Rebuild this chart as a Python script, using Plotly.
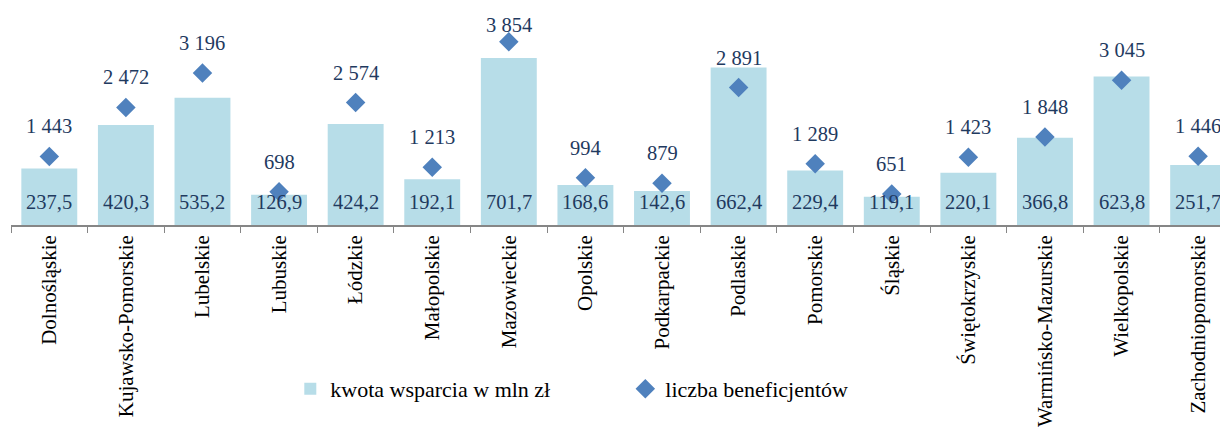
import plotly.graph_objects as go

regions = ["Dolnośląskie", "Kujawsko-Pomorskie", "Lubelskie", "Lubuskie", "Łódzkie",
           "Małopolskie", "Mazowieckie", "Opolskie", "Podkarpackie", "Podlaskie",
           "Pomorskie", "Śląskie", "Świętokrzyskie", "Warmińsko-Mazurskie",
           "Wielkopolskie", "Zachodniopomorskie"]
kwota = [237.5, 420.3, 535.2, 126.9, 424.2, 192.1, 701.7, 168.6, 142.6, 662.4,
         229.4, 119.1, 220.1, 366.8, 623.8, 251.7]
beneficjenci = [1443, 2472, 3196, 698, 2574, 1213, 3854, 994, 879, 2891,
                1289, 651, 1423, 1848, 3045, 1446]

FONT = "Liberation Serif"
LABEL_COLOR = "#1F3A5F"

W, H = 1220, 420
M_L, M_R, M_T, M_B = 3, 0, 0, 203
Y1_MAX = 912
Y2_MAX = 4563
PLOT_H = H - M_T - M_B


def fmt_pl_dec(v):
    return f"{v:.1f}".replace(".", ",")


def fmt_pl_int(v):
    return f"{v:,}".replace(",", " ")


fig = go.Figure()
fig.add_trace(go.Bar(
    x=regions, y=kwota, name="kwota wsparcia w mln zł",
    marker=dict(color="#B7DDE8", line=dict(width=0)),
    yaxis="y",
))
fig.add_trace(go.Scatter(
    x=regions, y=beneficjenci, name="liczba beneficjentów",
    mode="markers", marker=dict(symbol="diamond", size=15, color="#4F81BD"),
    yaxis="y2",
))

annotations = []
for r, v in zip(regions, kwota):
    annotations.append(dict(x=r, y=0, xref="x", yref="y", text=fmt_pl_dec(v),
                            showarrow=False, yanchor="middle", yshift=23,
                            font=dict(family=FONT, size=20.5, color=LABEL_COLOR)))
for r, v in zip(regions, beneficjenci):
    # keep the label inside the chart area (as the original does for the top one)
    py = M_T + PLOT_H * (1 - v / Y2_MAX)
    shift = min(30, py - 17)
    annotations.append(dict(x=r, y=v, xref="x", yref="y2", text=fmt_pl_int(v),
                            showarrow=False, yanchor="middle", yshift=shift,
                            font=dict(family=FONT, size=20.5, color=LABEL_COLOR)))

fig.update_layout(
    width=W, height=H,
    margin=dict(l=M_L, r=M_R, t=M_T, b=M_B),
    paper_bgcolor="white", plot_bgcolor="white",
    bargap=0.27,
    font=dict(family=FONT, size=20, color="black"),
    xaxis=dict(type="category", range=[-0.5, 15.39], showline=True,
               linecolor="#868686", linewidth=1.5, ticks="outside",
               tickson="boundaries", ticklen=6, tickcolor="#868686",
               tickangle=-90, tickfont=dict(family=FONT, size=21, color="black"),
               showgrid=False),
    yaxis=dict(range=[0, Y1_MAX], visible=False, showgrid=False),
    yaxis2=dict(range=[0, Y2_MAX], overlaying="y", side="right", visible=False,
                showgrid=False),
    legend=dict(orientation="h", x=0.2295, y=-0.756, xanchor="left", yanchor="middle",
                font=dict(family=FONT, size=22, color="black"),
                entrywidth=290, entrywidthmode="pixels", bgcolor="rgba(0,0,0,0)"),
    annotations=annotations,
    showlegend=True,
)

fig.write_html("out.html")
